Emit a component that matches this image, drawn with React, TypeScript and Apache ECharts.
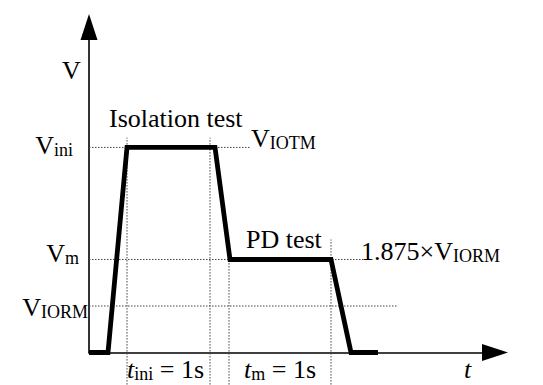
import React, { useEffect, useRef } from "react";
import * as echarts from "echarts";

// waveform: time (arbitrary units) and voltage (arbitrary units)
const waveT = [0, 1.9, 3.8, 12.6, 14.1, 24.2, 26.2, 28.9];
const waveV = [0, 0, 4.41, 4.41, 2.0, 2.0, 0, 0];

// horizontal guide levels: Vini, Vm, VIORM
const levelValues = [4.41, 2.0, 1.0];
const levelGuideEnds = [16.1, 27.4, 30.8];

// vertical time markers
const markerT = [3.8, 12.1, 14.0, 24.2];
const markerTop = [4.62, 4.62, 2.0, 2.43];
const markerBottom = -0.69;

const FAMILY = "Liberation Serif";

const rich = {
  m: { fontSize: 26, fontFamily: FAMILY, lineHeight: 30, fill: "#000" },
  it: { fontSize: 26, fontFamily: FAMILY, fontStyle: "italic", lineHeight: 30, fill: "#000" },
  s: { fontSize: 18, fontFamily: FAMILY, lineHeight: 30, padding: [9.2, 0, 0, 0], fill: "#000" },
};

const labels: { text: string; x: number; y: number; align: string }[] = [
  { text: "{m|V}", x: 62, y: 70, align: "left" },
  { text: "{m|Isolation test}", x: 109, y: 118, align: "left" },
  { text: "{m|V}{s|ini}", x: 73, y: 145, align: "right" },
  { text: "{m|V}{s|IOTM}", x: 251, y: 138.5, align: "left" },
  { text: "{m|PD test}", x: 246, y: 239.5, align: "left" },
  { text: "{m|1.875×V}{s|IORM}", x: 361, y: 251, align: "left" },
  { text: "{m|V}{s|m}", x: 79, y: 253, align: "right" },
  { text: "{m|V}{s|IORM}", x: 88, y: 307, align: "right" },
  { text: "{it|t}{s|ini}{m| = 1s}", x: 127, y: 369.5, align: "left" },
  { text: "{it|t}{s|m}{m| = 1s}", x: 244, y: 369.5, align: "left" },
  { text: "{it|t}", x: 464, y: 369.5, align: "left" },
];

export default function App() {
  const ref = useRef<HTMLDivElement>(null);
  useEffect(() => {
    if (!ref.current) return;
    const chart = echarts.init(ref.current, null, { renderer: "svg" });
    const dotted = { color: "#444", width: 1, type: [1.5, 1.5] as any };
    const axisCommon = {
      axisTick: { show: false },
      axisLabel: { show: false },
      splitLine: { show: false },
      axisLine: {
        show: true,
        symbol: ["none", "triangle"],
        symbolSize: [17, 26],
        lineStyle: { color: "#000", width: 1.6 },
      },
    };
    chart.setOption({
      animation: false,
      backgroundColor: "#fff",
      grid: { left: 89, right: 48, top: 27, bottom: 32.5 },
      xAxis: { type: "value", min: 0, max: 40.6, ...axisCommon },
      yAxis: { type: "value", min: 0, max: 7.0, ...axisCommon },
      series: [
        ...levelValues.map((v, i) => ({
          type: "line",
          data: [
            [0, v],
            [levelGuideEnds[i], v],
          ],
          symbol: "none",
          lineStyle: dotted,
          silent: true,
          z: 1,
        })),
        ...markerT.map((t, i) => ({
          type: "line",
          data: [
            [t, markerBottom],
            [t, markerTop[i]],
          ],
          symbol: "none",
          clip: false,
          lineStyle: dotted,
          silent: true,
          z: 1,
        })),
        {
          type: "line",
          data: waveT.map((t, i) => [t, waveV[i]]),
          symbol: "none",
          lineStyle: { color: "#000", width: 4.8, join: "miter", cap: "butt" },
          silent: true,
          z: 5,
        },
      ],
      graphic: labels.map((l) => ({
        type: "text",
        x: l.x,
        y: l.y,
        silent: true,
        style: {
          text: l.text,
          rich,
          fontSize: 26,
          fontFamily: FAMILY,
          align: l.align,
          verticalAlign: "middle",
          fill: "#000",
        },
      })),
    });
    return () => chart.dispose();
  }, []);
  return (
    <div
      ref={ref}
      style={{ position: "fixed", left: 0, top: 0, width: 543, height: 385, background: "#fff" }}
    />
  );
}
